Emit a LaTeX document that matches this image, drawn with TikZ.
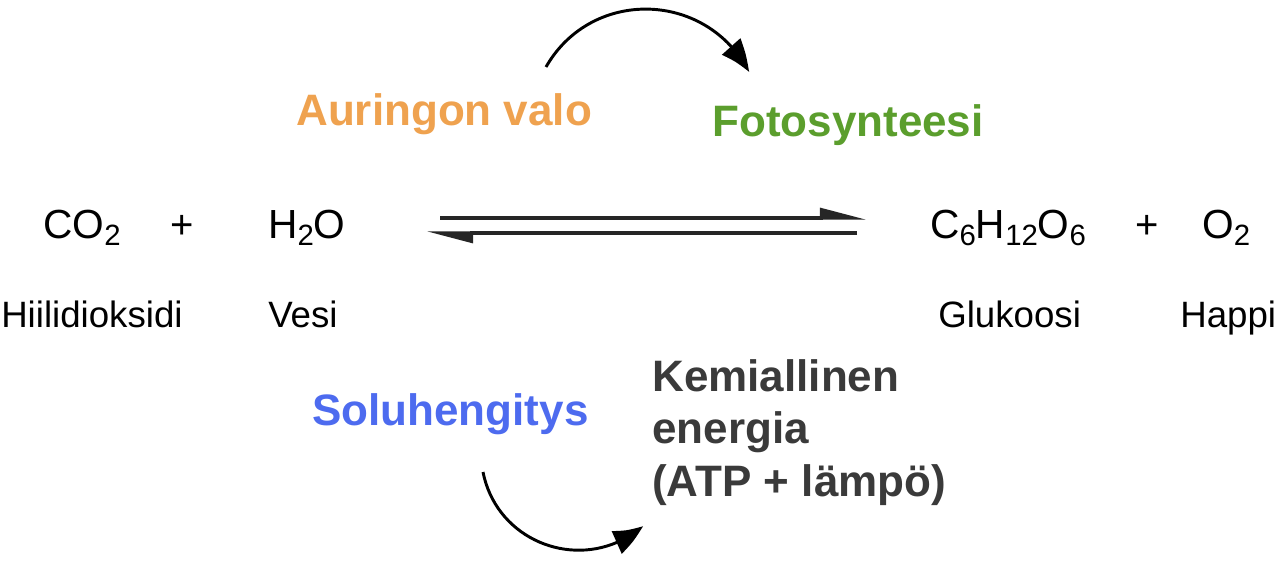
\documentclass[tikz,border=0pt]{standalone}
\usepackage{fontspec}
\setmainfont{Liberation Sans}
\usetikzlibrary{arrows.meta,bending}
\definecolor{sunorange}{RGB}{239,162,79}
\definecolor{photogreen}{RGB}{91,158,45}
\definecolor{respblue}{RGB}{77,107,239}
\definecolor{energygray}{RGB}{58,58,58}
\newcommand\chs[1]{\raisebox{-5.5pt}{\fontsize{22}{22}\selectfont #1}}
\tikzset{
  formula/.style={inner sep=0pt, anchor=base west, font=\fontsize{30.5}{36}\selectfont},
  plussign/.style={inner sep=0pt, anchor=base, font=\fontsize{30}{36}\selectfont},
  namelabel/.style={inner sep=0pt, anchor=base west, font=\fontsize{27.5}{33}\selectfont},
  boldlabel/.style={inner sep=0pt, anchor=base west, font=\fontsize{33}{39.4}\bfseries},
  eqline/.style={line width=2.3pt, draw=black!85, -{Triangle[left,length=30pt,width=15pt]}},
  cycarrow/.style={line width=2.2pt, -{Triangle[length=24pt,width=18pt,bend]}},
}
\begin{document}
\begin{tikzpicture}[x=0.75pt,y=-0.75pt]
\useasboundingbox (0,0) rectangle (1284,564);
% formulas
\node[formula] (co2) at (43,238) {CO\chs{2}};
\node[plussign] (plus1) at (182,238) {+};
\node[formula] (h2o) at (268,238) {H\chs{2}O};
\node[formula] (glc) at (930,238) {C\chs{6}H\chs{12}O\chs{6}};
\node[plussign] (plus2) at (1147,238) {+};
\node[formula] (o2) at (1202,238) {O\chs{2}};
% names
\node[namelabel] (n1) at (1,327) {Hiilidioksidi};
\node[namelabel] (n2) at (268,327) {Vesi};
\node[namelabel] (n3) at (938,327) {Glukoosi};
\node[namelabel] (n4) at (1180,327) {Happi};
% process labels
\node[boldlabel, text=sunorange] (sun) at (296,125) {Auringon valo};
\node[boldlabel, text=photogreen] (photo) at (712,136) {Fotosynteesi};
\node[boldlabel, text=respblue] (resp) at (312,425) {Soluhengitys};
\node[inner sep=0pt, anchor=north west, align=left, text=energygray,
      font=\fontsize{33}{39.4}\bfseries] (energy) at (652,359)
      {Kemiallinen\\energia\\(ATP + lämpö)};
% equilibrium arrows
\coordinate (fwdS) at (440,218);
\coordinate (fwdE) at (866,218);
\coordinate (revS) at (857,233);
\coordinate (revE) at (427,233);
\draw[eqline] (fwdS) -- (fwdE);
\draw[eqline] (revS) -- (revE);
% curved arrows
\coordinate (topS) at (546,67);
\coordinate (topE) at (749,72);
\draw[cycarrow] (topS) .. controls (591,-12) and (706,-10) .. (topE);
\coordinate (botS) at (483,472);
\coordinate (botE) at (643,526);
\draw[cycarrow] (botS) .. controls (497.5,545.3) and (585.9,575.3) .. (botE);
\end{tikzpicture}
\end{document}
